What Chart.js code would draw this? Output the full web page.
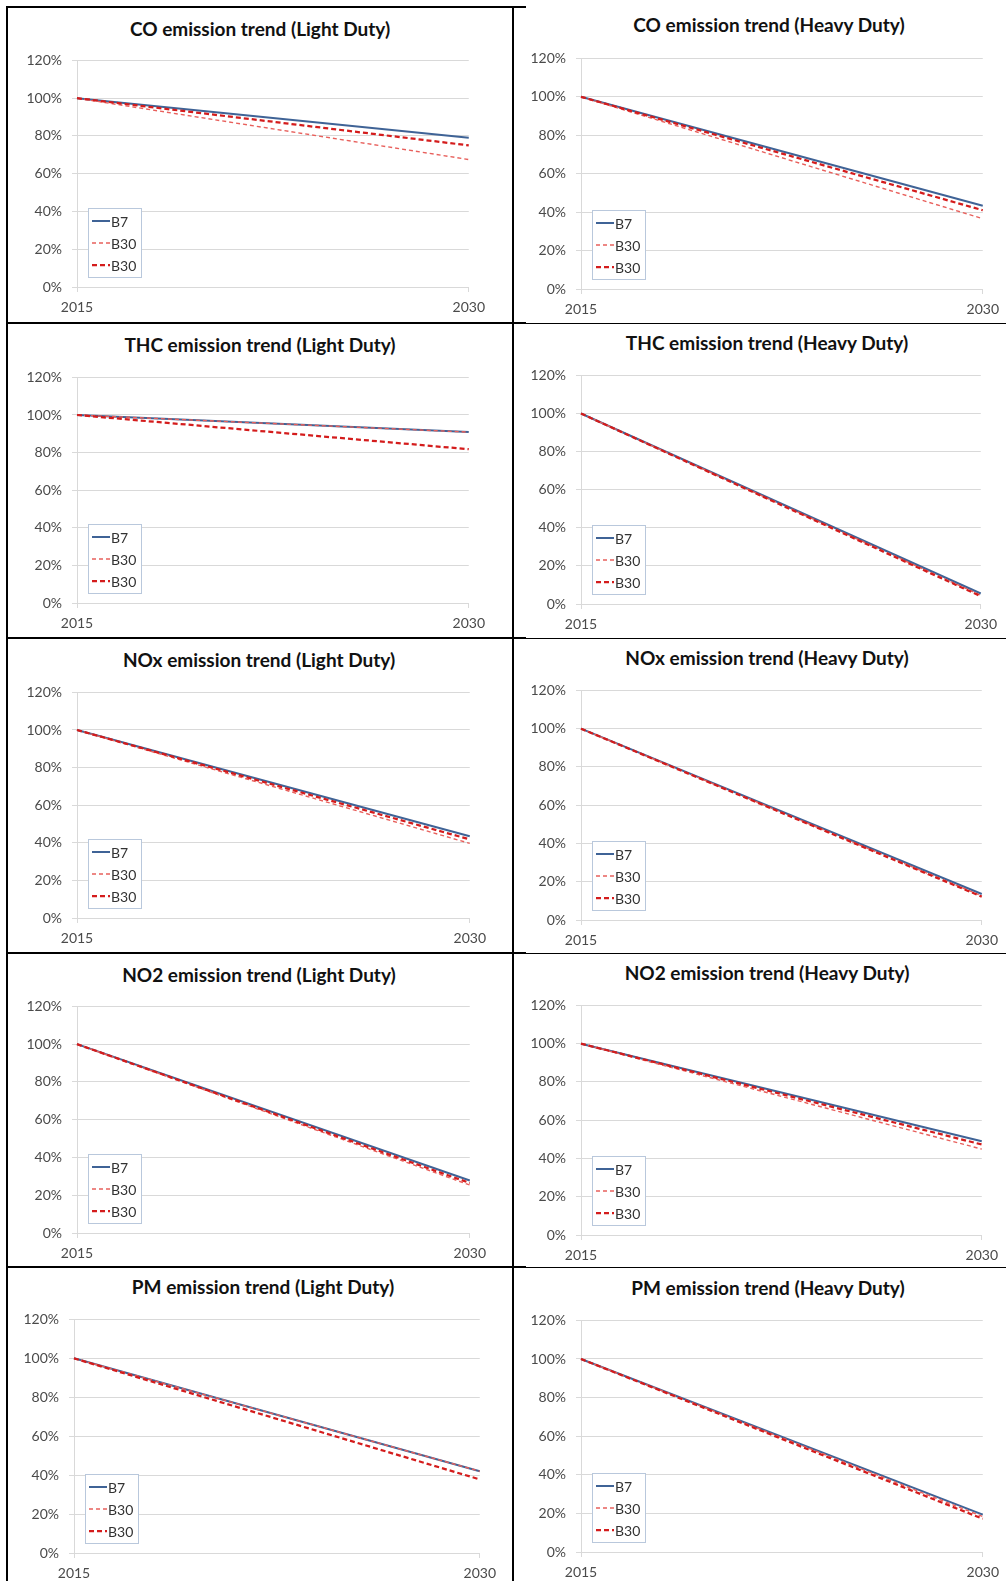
<!DOCTYPE html>
<html lang="en">
<head>
<meta charset="UTF-8" />
<title>Emission trends</title>
<script src="https://cdn.jsdelivr.net/npm/chart.js"></script>
<style>
  html, body { margin: 0; padding: 0; background: #fff; overflow: hidden; }
  body { width: 1006px; height: 1581px; position: relative; font-family: Lato, "Open Sans", sans-serif; }
  .panel-title { position: absolute; width: 500px; text-align: center; font-weight: bold; font-size: 19px; line-height: 22px; color: #111; white-space: nowrap; }
  canvas.chart { position: absolute; }
  .rule { position: absolute; background: #000; }
</style>
</head>
<body>
<script>
const years = ['2015', '2030'];
const titles = [
  'CO emission trend (Light Duty)', 'CO emission trend (Heavy Duty)',
  'THC emission trend (Light Duty)', 'THC emission trend (Heavy Duty)',
  'NOx emission trend (Light Duty)', 'NOx emission trend (Heavy Duty)',
  'NO2 emission trend (Light Duty)', 'NO2 emission trend (Heavy Duty)',
  'PM emission trend (Light Duty)', 'PM emission trend (Heavy Duty)'
];
// % of the 2015 level, [2015, 2030], one pair per panel
const b7 = [[100, 79], [100, 43.3], [100, 90.9], [100, 5.5], [100, 43.5], [100, 13.6], [100, 27.8], [100, 49], [100, 42], [100, 19.4]];
const b30Thin = [[100, 67.5], [100, 36.6], [100, 90.9], [100, 4.6], [100, 39.7], [100, 12.6], [100, 25.4], [100, 44.9], [100, 42], [100, 18.4]];
const b30Thick = [[100, 75], [100, 41], [100, 81.8], [100, 4.1], [100, 41.8], [100, 12.2], [100, 26.5], [100, 47.3], [100, 37.8], [100, 17.2]];

// plot area (left, top, right, bottom) and title centre, measured on the reference
const boxes = [
  [77, 54, 472, 287, 260, 29], [581, 52, 988, 289, 769, 25],
  [77, 371, 472, 603, 260, 345], [581, 369, 984, 604, 767, 343],
  [77, 686, 473, 918, 259, 660], [581, 684, 985, 920, 767, 658],
  [77, 1000, 473, 1233, 259, 975], [581, 999, 985, 1235, 767, 973],
  [74, 1313, 483, 1553, 263, 1287], [581, 1314, 987, 1552, 768, 1288]
];

const tickFont = { family: 'Lato', size: 14 };
const tickColor = '#4a4a4a';
const gridColor = '#d9d9d9';

// table rules
function rule(x, y, w, h) {
  const d = document.createElement('div');
  d.className = 'rule';
  Object.assign(d.style, { left: x + 'px', top: y + 'px', width: w + 'px', height: h + 'px' });
  document.body.appendChild(d);
}
rule(6, 7, 2, 1574);
rule(512, 7, 2, 1574);
rule(6, 6, 520, 2);
[322, 637, 952, 1266].forEach(y => {
  rule(6, y, 520, 2);
  rule(526, y + 1, 480, 1);
});

// legend box inside the plot, bottom left, like the Excel one
const boxLegend = {
  id: 'boxLegend',
  afterDraw(chart) {
    const { ctx, chartArea } = chart;
    const sets = chart.data.datasets;
    ctx.save();
    ctx.font = '14px Lato';
    const textW = Math.max(...sets.map(d => ctx.measureText(d.label).width));
    const w = Math.round(4 + 18 + 2 + textW + 4), h = 69;
    const x = Math.round(chartArea.left + 11), y = Math.round(chartArea.bottom - 10 - h);
    ctx.fillStyle = '#fff';
    ctx.fillRect(x, y, w, h);
    ctx.strokeStyle = '#b9c8dc';
    ctx.lineWidth = 1;
    ctx.strokeRect(x + 0.5, y + 0.5, w, h);
    sets.forEach((d, i) => {
      const cy = y + 13 + i * 22;
      ctx.strokeStyle = d.borderColor;
      ctx.lineWidth = d.borderWidth;
      ctx.setLineDash(d.borderDash || []);
      ctx.beginPath();
      ctx.moveTo(x + 4, cy);
      ctx.lineTo(x + 22, cy);
      ctx.stroke();
      ctx.setLineDash([]);
      ctx.fillStyle = '#333';
      ctx.textBaseline = 'middle';
      ctx.fillText(d.label, x + 23, cy + 1);
    });
    ctx.restore();
  }
};

titles.forEach((t, i) => {
  const [L, T, R, B, tx, ty] = boxes[i];

  const title = document.createElement('div');
  title.className = 'panel-title';
  title.textContent = t;
  title.style.left = (tx - 250) + 'px';
  title.style.top = (ty - 11) + 'px';
  document.body.appendChild(title);

  const padR = Math.min(20, 1006 - R);
  const cv = document.createElement('canvas');
  cv.className = 'chart';
  cv.width = R - L + 60 + padR;
  cv.height = B - T + 12 + 30;
  cv.style.left = (L - 60) + 'px';
  cv.style.top = (T - 12) + 'px';
  document.body.appendChild(cv);

  new Chart(cv, {
    type: 'line',
    data: {
      labels: years,
      datasets: [
        { label: 'B7', data: b7[i], borderColor: '#3f6396', borderWidth: 2, order: 3 },
        { label: 'B30', data: b30Thin[i], borderColor: '#e8605c', borderWidth: 1.4, borderDash: [4, 3], order: 2 },
        { label: 'B30', data: b30Thick[i], borderColor: '#d41c1c', borderWidth: 2.25, borderDash: [5, 3], order: 1 }
      ]
    },
    options: {
      responsive: false,
      animation: false,
      devicePixelRatio: 1,
      layout: { padding: { top: 12, right: padR, left: 0, bottom: 0 } },
      elements: { point: { radius: 0 }, line: { tension: 0 } },
      plugins: { legend: { display: false }, tooltip: { enabled: false }, title: { display: false } },
      scales: {
        x: {
          offset: false,
          grid: { drawOnChartArea: false, color: gridColor, tickLength: 5 },
          border: { color: gridColor },
          ticks: { font: tickFont, color: tickColor, padding: 7, maxRotation: 0, autoSkip: false },
          afterFit: s => { s.height = 30; }
        },
        y: {
          min: 0,
          max: 120,
          ticks: { stepSize: 20, callback: v => v + '%', padding: 10, font: tickFont, color: tickColor },
          grid: { color: gridColor, tickLength: 5 },
          border: { color: gridColor },
          afterFit: s => { s.width = 60; }
        }
      }
    },
    plugins: [boxLegend]
  });
});
</script>
</body>
</html>
